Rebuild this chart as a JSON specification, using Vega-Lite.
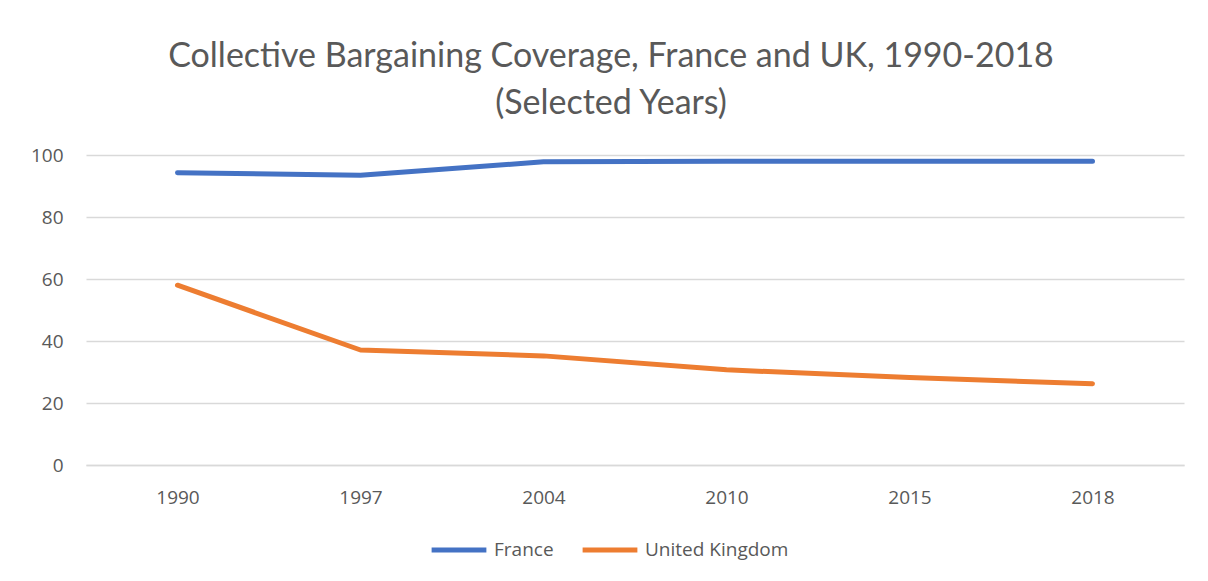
{
  "$schema": "https://vega.github.io/schema/vega-lite/v6.json",
  "width": 1098,
  "height": 310,
  "autosize": {"type": "none"},
  "padding": {"left": 86, "top": 155, "right": 24, "bottom": 116},
  "background": "white",
  "title": {
    "text": ["Collective Bargaining Coverage, France and UK, 1990-2018", "(Selected Years)"],
    "anchor": "middle",
    "dx": -24,
    "fontSize": 34,
    "font": "Lato",
    "fontWeight": "normal",
    "color": "#595959",
    "lineHeight": 47,
    "offset": 25
  },
  "data": {
    "values": [
      {"year": "1990", "country": "France", "value": 94.3},
      {"year": "1997", "country": "France", "value": 93.5},
      {"year": "2004", "country": "France", "value": 97.8},
      {"year": "2010", "country": "France", "value": 98.0},
      {"year": "2015", "country": "France", "value": 98.0},
      {"year": "2018", "country": "France", "value": 98.0},
      {"year": "1990", "country": "United Kingdom", "value": 58.0},
      {"year": "1997", "country": "United Kingdom", "value": 37.1},
      {"year": "2004", "country": "United Kingdom", "value": 35.2},
      {"year": "2010", "country": "United Kingdom", "value": 30.7},
      {"year": "2015", "country": "United Kingdom", "value": 28.2},
      {"year": "2018", "country": "United Kingdom", "value": 26.2}
    ]
  },
  "mark": {"type": "line", "strokeWidth": 5, "strokeCap": "round", "strokeJoin": "round"},
  "encoding": {
    "x": {
      "field": "year", "type": "ordinal", "sort": null,
      "scale": {"type": "point", "padding": 0.5},
      "axis": {
        "title": null, "labelAngle": 0, "ticks": false, "domain": true,
        "domainColor": "#d9d9d9", "domainWidth": 1.5, "grid": false,
        "labelFont": "Open Sans", "labelFontSize": 19, "labelColor": "#595959",
        "labelPadding": 23
      }
    },
    "y": {
      "field": "value", "type": "quantitative",
      "scale": {"domain": [0, 100]},
      "axis": {
        "title": null, "values": [0, 20, 40, 60, 80, 100], "ticks": false, "domain": false,
        "grid": true, "gridColor": "#d9d9d9", "gridWidth": 1.5,
        "labelFont": "Open Sans", "labelFontSize": 19, "labelColor": "#595959",
        "labelPadding": 23
      }
    },
    "color": {
      "field": "country", "type": "nominal",
      "scale": {"domain": ["France", "United Kingdom"], "range": ["#4472C4", "#ED7D31"]},
      "legend": {
        "title": null, "orient": "none", "legendX": 343, "legendY": 365, "direction": "horizontal",
        "symbolType": "stroke", "symbolSize": 3000, "symbolStrokeWidth": 5,
        "labelFont": "Open Sans", "labelFontSize": 19, "labelColor": "#595959",
        "columnPadding": 18, "labelOffset": 5
      }
    }
  },
  "config": {"view": {"stroke": null}}
}
